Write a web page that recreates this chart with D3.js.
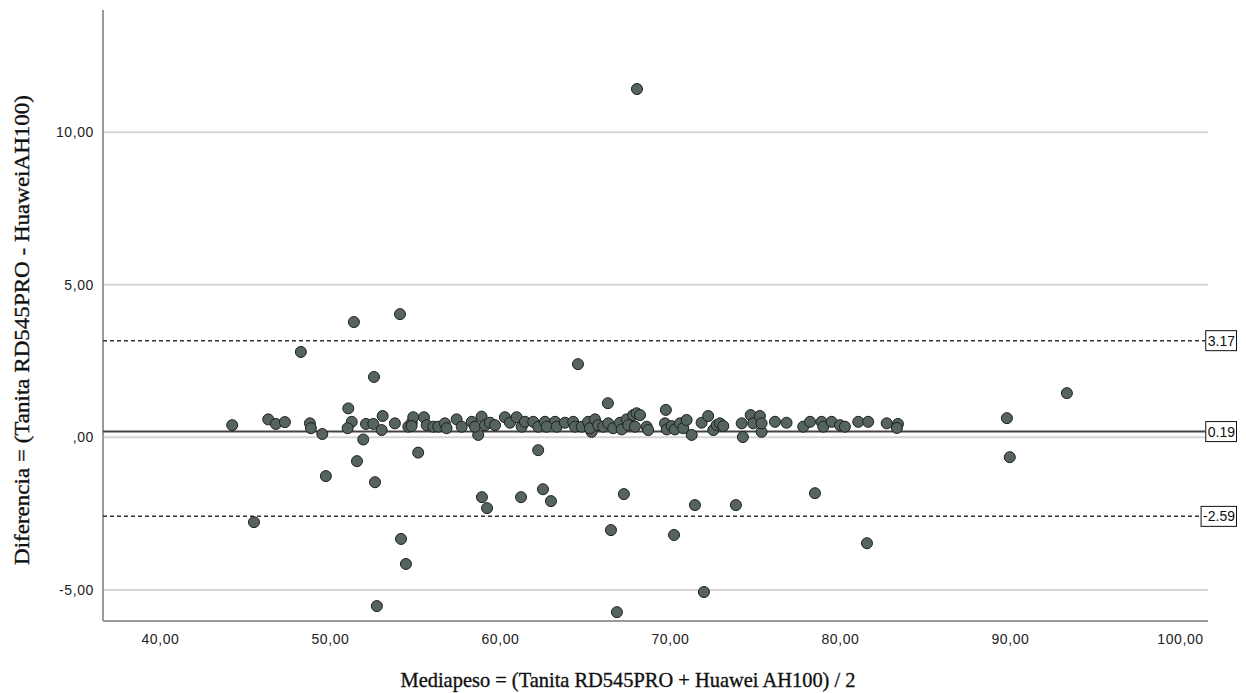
<!DOCTYPE html>
<html>
<head>
<meta charset="utf-8">
<script src="https://cdn.jsdelivr.net/npm/d3@7"></script>
<style>
  body { margin: 0; background: #fff; }
  svg { display: block; }
</style>
</head>
<body>
<div id="chart"></div>
<script>
const WIDTH = 1246;
const HEIGHT = 693;

// mean of the two scales (x) and their difference (y)
const meanWeight = [
    68.06, 44.25, 45.53, 48.29, 51.41, 54.12, 52.59, 64.59, 51.59, 49.76,
    52.65, 55.19, 62.25, 62.53, 58.94, 59.24, 61.24, 63.00, 54.18, 54.47,
    52.76, 67.29, 66.53, 71.47, 73.88, 78.53, 70.24, 81.59, 72.00, 66.88,
    93.35, 89.82, 89.99, 66.35, 69.76, 74.29, 51.08, 51.96, 49.55, 58.72,
    71.28, 75.39, 65.39,
    46.37, 46.82, 47.35, 48.82, 48.88, 51.28, 51.04, 52.12, 52.55, 53.10,
    53.04, 53.82, 54.61, 54.81, 54.90, 54.80, 55.53, 55.69, 56.08, 56.37,
    56.76, 56.86, 57.45, 57.75, 58.34, 58.53, 58.92, 59.12, 59.41, 59.71,
    60.29, 60.59, 60.98, 61.28, 61.47, 61.96, 62.25, 62.65,
    63.24, 62.75, 63.34, 63.82, 64.31, 64.41, 64.81, 65.19, 65.29, 65.59,
    65.78, 66.08, 66.37, 66.66, 67.06, 67.16, 67.45, 67.55, 67.84, 68.04,
    68.24, 67.94, 68.63, 68.72, 69.71, 69.81, 70.10, 70.29, 70.59, 70.78,
    70.98, 71.86, 72.25, 72.55, 72.75, 72.94, 73.14, 74.22, 74.75, 74.90,
    75.29, 75.39, 76.18, 76.86, 77.84, 78.24, 78.92, 79.02, 79.51, 80.00,
    80.29, 81.08, 81.66, 82.75, 83.41, 83.35
];

const difference = [
    11.42, 0.40, -2.78, 2.80, 3.78, 4.04, 1.98, 2.40, -0.78, -1.27,
    -1.47, -0.50, -0.42, -1.70, -1.96, -2.32, -1.96, -2.09, -3.33, -4.15,
    -5.53, -1.86, -3.04, -2.22, -2.22, -1.83, -3.20, -3.47, -5.07, -5.73,
    1.45, 0.63, -0.65, 1.12, 0.90, 0.01, 0.95, -0.07, 0.11, 0.08,
    0.08, 0.18, 0.18,
    0.59, 0.44, 0.50, 0.46, 0.30, 0.51, 0.30, 0.44, 0.44, 0.70,
    0.24, 0.46, 0.35, 0.48, 0.66, 0.37, 0.66, 0.40, 0.35, 0.35,
    0.46, 0.30, 0.59, 0.35, 0.51, 0.35, 0.68, 0.40, 0.48, 0.40,
    0.66, 0.48, 0.66, 0.35, 0.51, 0.51, 0.35, 0.51,
    0.51, 0.35, 0.35, 0.48, 0.51, 0.35, 0.35, 0.51, 0.30, 0.59,
    0.40, 0.35, 0.46, 0.30, 0.48, 0.26, 0.59, 0.40, 0.73, 0.79,
    0.73, 0.35, 0.35, 0.24, 0.46, 0.26, 0.37, 0.26, 0.46, 0.30,
    0.57, 0.48, 0.70, 0.24, 0.40, 0.46, 0.37, 0.46, 0.73, 0.46,
    0.70, 0.46, 0.51, 0.48, 0.35, 0.51, 0.51, 0.35, 0.51, 0.40,
    0.35, 0.51, 0.51, 0.46, 0.44, 0.31
];

const xTicks = [40, 50, 60, 70, 80, 90, 100];
const yTicks = [-5, 0, 5, 10];

// mean difference and limits of agreement
const refLines = [
    { value: 3.17, kind: "limit" },
    { value: 0.19, kind: "mean" },
    { value: -2.59, kind: "limit" }
];

const xLabel = "Mediapeso = (Tanita RD545PRO + Huawei AH100) / 2";
const yLabel = "Diferencia = (Tanita RD545PRO - HuaweiAH100)";

const points = meanWeight.map((m, i) => ({ x: m, y: difference[i] }));

const plot = { left: 103, right: 1208, top: 10, bottom: 621 };

const x = d3.scaleLinear()
    .domain([36.65, 101.65])
    .range([plot.left, plot.right]);

const y = d3.scaleLinear()
    .domain([-6.02, 14.01])
    .range([plot.bottom, plot.top]);

// SPSS style numbers: decimal comma, plain hyphen and ",00" for zero
const locale = d3.formatLocale({ decimal: ",", thousands: ".", grouping: [3], currency: ["", ""], minus: "-" });
const fmt2 = locale.format(".2f");
const tickFormat = d => fmt2(d).replace(/^(-?)0,/, "$1,");
const refFmt = d3.formatLocale({ decimal: ".", thousands: ",", grouping: [3], currency: ["", ""], minus: "-" }).format(".2f");

const SANS = "'Liberation Sans', Arial, sans-serif";
const SERIF = "'Liberation Serif', 'Times New Roman', serif";

const svg = d3.select("#chart")
    .append("svg")
    .attr("width", WIDTH)
    .attr("height", HEIGHT);

/* GRID */

svg.append("g")
    .selectAll("line")
    .data(yTicks)
    .join("line")
    .attr("x1", plot.left)
    .attr("x2", plot.right)
    .attr("y1", d => y(d))
    .attr("y2", d => y(d))
    .attr("stroke", "#d6d6d6")
    .attr("stroke-width", 2);

/* AXES */

const yAxis = svg.append("g")
    .attr("transform", `translate(${plot.left},0)`)
    .call(d3.axisLeft(y).tickValues(yTicks).tickFormat(tickFormat).tickSize(0).tickPadding(9));

const xAxis = svg.append("g")
    .attr("transform", `translate(0,${plot.bottom})`)
    .call(d3.axisBottom(x).tickValues(xTicks).tickFormat(tickFormat).tickSize(0).tickPadding(13));

[yAxis, xAxis].forEach(a => {
    a.select(".domain").remove();
    a.selectAll("text")
        .attr("font-family", SANS)
        .attr("font-size", 14)
        .attr("letter-spacing", 0.6)
        .attr("fill", "#222");
});

svg.append("line")
    .attr("x1", plot.left).attr("x2", plot.left)
    .attr("y1", plot.top).attr("y2", plot.bottom)
    .attr("stroke", "#9a9a9a").attr("stroke-width", 2);

svg.append("line")
    .attr("x1", plot.left).attr("x2", plot.right)
    .attr("y1", plot.bottom).attr("y2", plot.bottom)
    .attr("stroke", "#9a9a9a").attr("stroke-width", 2);

/* REFERENCE LINES */

const refG = svg.append("g");

refLines.forEach(r => {
    const yy = y(r.value);
    const label = refG.append("text")
        .attr("x", 1235)
        .attr("y", yy)
        .attr("dy", "0.36em")
        .attr("text-anchor", "end")
        .attr("font-family", SANS)
        .attr("font-size", 14)
        .attr("fill", "#111")
        .text(refFmt(r.value));
    const bb = label.node().getBBox();
    const boxLeft = bb.x - 2;

    refG.append("line")
        .attr("x1", plot.left)
        .attr("x2", boxLeft)
        .attr("y1", yy)
        .attr("y2", yy)
        .attr("stroke", r.kind === "mean" ? "#444" : "#333")
        .attr("stroke-width", r.kind === "mean" ? 2 : 1.5)
        .attr("stroke-dasharray", r.kind === "mean" ? null : "4,3");

    refG.insert("rect", "text")
        .attr("x", boxLeft)
        .attr("y", yy - 10)
        .attr("width", 1236.5 - boxLeft)
        .attr("height", 20)
        .attr("fill", "#fff")
        .attr("stroke", "#111")
        .attr("stroke-width", 1);
});

/* POINTS */

svg.append("g")
    .selectAll("circle")
    .data(points)
    .join("circle")
    .attr("cx", d => x(d.x))
    .attr("cy", d => y(d.y))
    .attr("r", 5.5)
    .attr("fill", "#56645f")
    .attr("stroke", "#1e1e1e")
    .attr("stroke-width", 1);

/* AXIS TITLES */

// the original titles render heavier than plain serif, a thin stroke helps
svg.append("text")
    .attr("x", 628)
    .attr("y", 687)
    .attr("text-anchor", "middle")
    .attr("font-family", SERIF)
    .attr("font-size", 21)
    .attr("textLength", 455)
    .attr("lengthAdjust", "spacingAndGlyphs")
    .attr("fill", "#111")
    .attr("stroke", "#111")
    .attr("stroke-width", 0.35)
    .text(xLabel);

svg.append("text")
    .attr("transform", "translate(29,330) rotate(-90)")
    .attr("text-anchor", "middle")
    .attr("font-family", SERIF)
    .attr("font-size", 21)
    .attr("textLength", 470)
    .attr("lengthAdjust", "spacingAndGlyphs")
    .attr("fill", "#111")
    .attr("stroke", "#111")
    .attr("stroke-width", 0.35)
    .text(yLabel);
</script>
</body>
</html>
